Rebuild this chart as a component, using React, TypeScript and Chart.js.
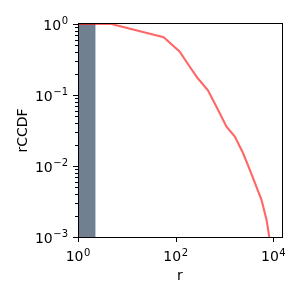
import React, { useEffect, useRef } from "react";
import { Chart, registerables } from "chart.js";
Chart.register(...registerables);

const curveR = [1, 4.8, 56.7, 121, 194, 283, 453, 683, 1097, 1623, 2400, 3296, 5727, 7250, 8200, 8900];
const curveCCDF = [1, 1, 0.65, 0.407, 0.25, 0.172, 0.1176, 0.0684, 0.0358, 0.0259, 0.0151, 0.0088, 0.0033, 0.00174, 0.00101, 0.00048];
const barEdges = [1, 2.3];
const barHeight = 1;
const xMajorTicks = [1, 100, 10000];
const yMajorTicks = [0.001, 0.01, 0.1, 1];
const yMinorMultipliers = [2, 3, 4, 5, 6, 7, 8, 9];
const xRange = [1, 15000];
const yRange = [0.001, 1];

const FONT = "'DejaVu Sans', sans-serif";

const expOf = (v: number) => {
  const e = Math.round(Math.log10(v));
  return e < 0 ? "\u2212" + String(-e) : String(e);
};

function drawPow(ctx: CanvasRenderingContext2D, v: number, x: number, baseline: number, align: "center" | "right") {
  const base = "10";
  const ex = expOf(v);
  ctx.font = `14px ${FONT}`;
  const wb = ctx.measureText(base).width;
  ctx.font = `10px ${FONT}`;
  const we = ctx.measureText(ex).width;
  const total = wb + we + 0.5;
  const x0 = align === "center" ? x - total / 2 : x - total;
  ctx.textAlign = "left";
  ctx.textBaseline = "alphabetic";
  ctx.fillStyle = "#000";
  ctx.font = `14px ${FONT}`;
  ctx.fillText(base, x0, baseline);
  ctx.font = `10px ${FONT}`;
  ctx.fillText(ex, x0 + wb + 0.5, baseline - 5.5);
}

export default function App() {
  const ref = useRef<HTMLCanvasElement>(null);
  useEffect(() => {
    if (!ref.current) return;
    const yMinor: number[] = [];
    for (let i = 0; i < yMajorTicks.length - 1; i++) {
      for (const m of yMinorMultipliers) yMinor.push(yMajorTicks[i] * m);
    }
    const framePlugin = {
      id: "frame",
      afterDraw(chart: any) {
        const { ctx, chartArea: a, scales } = chart;
        ctx.save();
        ctx.strokeStyle = "#000";
        ctx.lineWidth = 1;
        ctx.beginPath();
        ctx.moveTo(a.left + 0.5, a.top - 1);
        ctx.lineTo(a.left + 0.5, a.bottom + 1);
        ctx.moveTo(a.right + 0.5, a.top - 1);
        ctx.lineTo(a.right + 0.5, a.bottom + 1);
        ctx.moveTo(a.left, a.top - 0.5);
        ctx.lineTo(a.right + 1, a.top - 0.5);
        ctx.moveTo(a.left, a.bottom + 0.5);
        ctx.lineTo(a.right + 1, a.bottom + 0.5);
        for (const v of xMajorTicks) {
          const px = Math.round(scales.x.getPixelForValue(v)) + 0.5;
          ctx.moveTo(px, a.bottom);
          ctx.lineTo(px, a.bottom + 5);
        }
        for (const v of yMajorTicks) {
          const py = Math.round(scales.y.getPixelForValue(v)) + 0.5;
          ctx.moveTo(a.left, py);
          ctx.lineTo(a.left - 5, py);
        }
        for (const v of yMinor) {
          const py = Math.round(scales.y.getPixelForValue(v)) + 0.5;
          ctx.moveTo(a.left, py);
          ctx.lineTo(a.left - 3, py);
        }
        ctx.stroke();
        for (const v of xMajorTicks) {
          drawPow(ctx, v, scales.x.getPixelForValue(v), a.bottom + 24, "center");
        }
        for (const v of yMajorTicks) {
          drawPow(ctx, v, a.left - 10, scales.y.getPixelForValue(v) + 5.8, "right");
        }
        ctx.restore();
      },
    };
    const chart = new Chart(ref.current, {
      type: "line",
      data: {
        datasets: [
          {
            data: curveR.map((x, i) => ({ x, y: curveCCDF[i] })),
            borderColor: "rgba(255,0,0,0.6)",
            borderWidth: 2.1,
            pointRadius: 0,
            fill: false,
            tension: 0,
            clip: 0,
            order: 0,
          },
          {
            data: barEdges.map((x) => ({ x, y: barHeight })),
            borderWidth: 0,
            borderColor: "rgba(0,0,0,0)",
            backgroundColor: "#708090",
            pointRadius: 0,
            fill: "start",
            clip: 0,
            order: 1,
          },
        ],
      },
      options: {
        animation: false,
        responsive: false,
        maintainAspectRatio: false,
        events: [],
        layout: { padding: { left: 0, top: 24, right: 18, bottom: 0 } },
        plugins: { legend: { display: false }, tooltip: { enabled: false } },
        scales: {
          x: {
            type: "logarithmic",
            min: xRange[0],
            max: xRange[1],
            afterBuildTicks: (s: any) => {
              s.ticks = xMajorTicks.map((v) => ({ value: v, major: true }));
            },
            afterFit: (s: any) => {
              s.height = 63;
            },
            grid: { display: false, drawTicks: false },
            border: { display: false },
            ticks: { display: false },
            title: {
              display: true,
              text: "r",
              color: "#000",
              font: { family: FONT, size: 14 },
              padding: { top: 0, bottom: 15 },
            },
          },
          y: {
            type: "logarithmic",
            min: yRange[0],
            max: yRange[1],
            afterBuildTicks: (s: any) => {
              s.ticks = yMajorTicks.map((v) => ({ value: v, major: true }));
            },
            afterFit: (s: any) => {
              s.width = 78;
            },
            grid: { display: false, drawTicks: false },
            border: { display: false },
            ticks: { display: false },
            title: {
              display: true,
              text: "rCCDF",
              color: "#000",
              font: { family: FONT, size: 14 },
              padding: { top: 15, bottom: 0 },
            },
          },
        },
      },
      plugins: [framePlugin],
    } as any);
    return () => chart.destroy();
  }, []);
  return (
    <div style={{ position: "fixed", left: 0, top: 0, width: 300, height: 300, background: "#fff" }}>
      <canvas ref={ref} width={300} height={300} style={{ width: 300, height: 300 }} />
    </div>
  );
}
